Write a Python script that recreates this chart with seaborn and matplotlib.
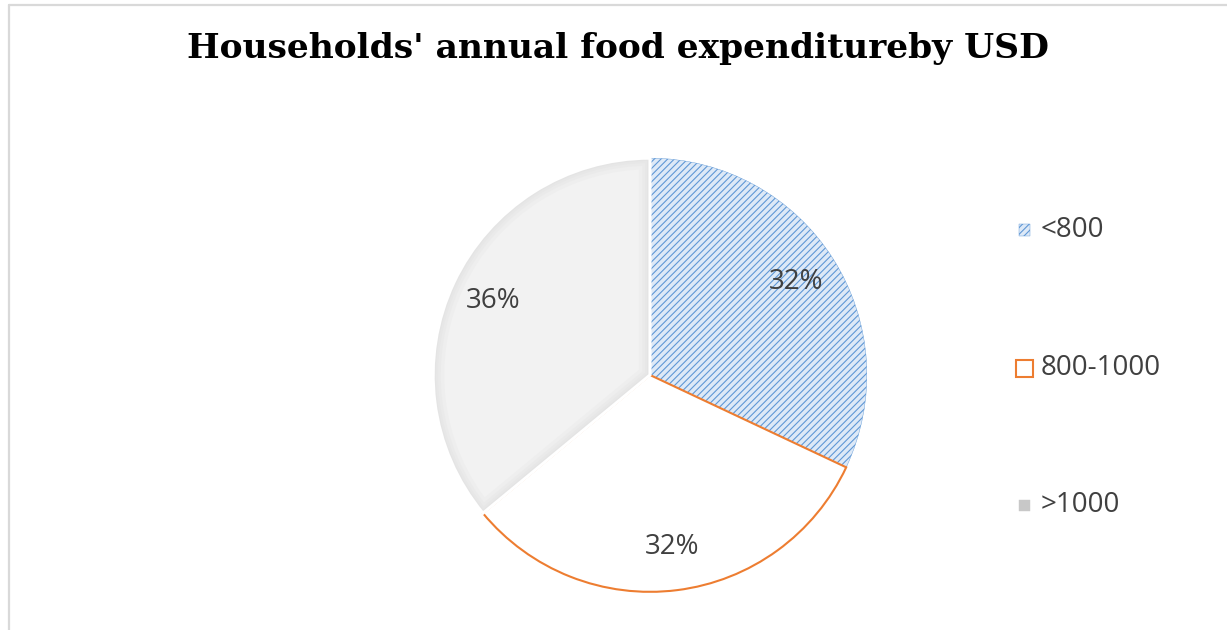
import matplotlib
matplotlib.use("Agg")
import matplotlib.pyplot as plt
from matplotlib.patches import Rectangle, Wedge
from matplotlib.lines import Line2D
import seaborn as sns

# Data
categories = ["<800", "800-1000", ">1000"]
shares = [32, 32, 36]
title = "Households' annual food expenditureby USD"

sns.set_theme(style="white")
plt.rcParams["font.family"] = ["Open Sans", "DejaVu Sans"]
plt.rcParams["hatch.linewidth"] = 0.8

W, H = 1227, 630
fig = plt.figure(figsize=(W / 100, H / 100), dpi=100)

# outer chart frame (only top and left edges fall inside the canvas)
fig.add_artist(Line2D([9 / W, 9 / W], [0, 1 - 5 / H], transform=fig.transFigure,
                      color="#d9d9d9", lw=1.6))
fig.add_artist(Line2D([9 / W, 1], [1 - 5 / H, 1 - 5 / H], transform=fig.transFigure,
                      color="#d9d9d9", lw=1.6))

# pie axes: centre (650, 375) px, radius 219 px
cx, cy, r = 650, 375, 219
ax = fig.add_axes([(cx - r) / W, (H - cy - r) / H, 2 * r / W, 2 * r / H])

BLUE_EDGE = "#5f98d6"
BLUE_FACE = "#dde9f7"
ORANGE = "#ED7D31"

wedges, texts, autotexts = ax.pie(
    shares, startangle=90, counterclock=False, radius=1.0,
    autopct="%.0f%%", pctdistance=0.8,
    textprops=dict(fontsize=20, color="#404040"),
)
ax.set_xlim(-1.01, 1.01)
ax.set_ylim(-1.01, 1.01)
ax.set_aspect("equal")
ax.axis("off")

blue, orange, grey = wedges
blue.set_facecolor(BLUE_FACE)
blue.set_edgecolor(BLUE_EDGE)
blue.set_hatch("/////")
blue.set_linewidth(0.3)
blue.set_zorder(1)

orange.set_facecolor("white")
orange.set_edgecolor(ORANGE)
orange.set_linewidth(1.5)
orange.set_zorder(2)

grey.set_facecolor("#f2f2f2")
grey.set_edgecolor("none")
grey.set_zorder(3)

# soft inner shade along the grey slice's border
for lw in [16, 11, 7, 4]:
    w = Wedge(grey.center, grey.r, grey.theta1, grey.theta2,
              facecolor="none", edgecolor="#c4c4c4", lw=lw, alpha=0.08, zorder=4)
    ax.add_patch(w)
    w.set_clip_path(grey)
sep = Wedge(grey.center, grey.r, grey.theta1, grey.theta2,
            facecolor="none", edgecolor="white", lw=2.2, zorder=5)
ax.add_patch(sep)

for t in autotexts:
    t.set_zorder(6)

# title
fig.text(618 / W, 1 - 58 / H, title, ha="center", va="baseline",
         family=["DejaVu Serif"], fontweight="bold",
         fontsize=24.8, color="black")

# legend drawn beside the pie
leg_y = [230, 368, 505]
styles = [
    dict(size=11, facecolor=BLUE_FACE, edgecolor=BLUE_EDGE, hatch="/////", lw=0.3),
    dict(size=17, facecolor="white", edgecolor=ORANGE, hatch=None, lw=1.5),
    dict(size=11, facecolor="#c8c8c8", edgecolor="#c8c8c8", hatch=None, lw=0.3),
]
for label, y, st in zip(categories, leg_y, styles):
    s = st["size"]
    fig.add_artist(Rectangle(((1024 - s / 2) / W, (H - y - s / 2) / H), s / W, s / H,
                             transform=fig.transFigure, facecolor=st["facecolor"],
                             edgecolor=st["edgecolor"], hatch=st["hatch"], lw=st["lw"]))
    fig.text(1041 / W, 1 - y / H, label, ha="left", va="center",
             fontsize=20, color="#404040")

fig.savefig("out.png", dpi=100, facecolor="white")
